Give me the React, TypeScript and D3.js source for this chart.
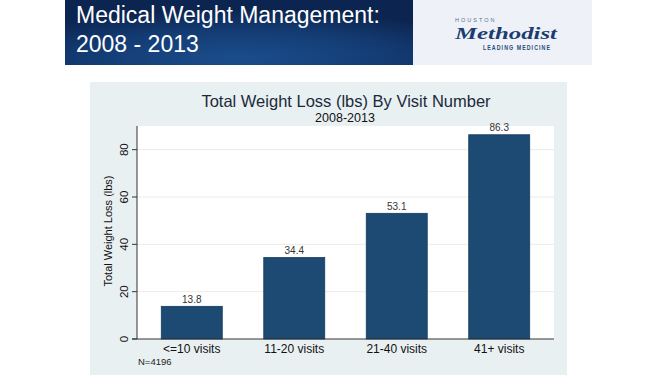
import React from "react";
import * as d3 from "d3";

const categories = ["<=10 visits", "11-20 visits", "21-40 visits", "41+ visits"];
const values = [13.8, 34.4, 53.1, 86.3];
const yTicks = [0, 20, 40, 60, 80];
const headerLines = ["Medical Weight Management:", "2008 - 2013"];
const chartTitle = "Total Weight Loss (lbs) By Visit Number";
const chartSubtitle = "2008-2013";
const yTitle = "Total Weight Loss (lbs)";
const note = "N=4196";

const W = 658;
const H = 376;
const plot = { left: 137, right: 554, top: 126, bottom: 339 };

export default function App() {
  const x = d3
    .scaleBand<string>()
    .domain(categories)
    .range([plot.left, plot.right])
    .paddingInner(0.405)
    .paddingOuter(0.237);
  const y = d3.scaleLinear().domain([0, 90]).range([plot.bottom, plot.top]);
  const font = "'Liberation Sans', Arial, sans-serif";

  return (
    <svg
      width={W}
      height={H}
      style={{ position: "absolute", left: 0, top: 0, display: "block" }}
      fontFamily={font}
    >
      <defs>
        <radialGradient id="banner" cx="0.5" cy="0.9" r="0.75" fx="0.5" fy="0.9">
          <stop offset="0" stopColor="#1b4d8c" />
          <stop offset="0.6" stopColor="#133b72" />
          <stop offset="1" stopColor="#0c2550" />
        </radialGradient>
      </defs>
      <rect x={0} y={0} width={W} height={H} fill="#ffffff" />
      {/* header banner */}
      <rect x={65} y={0} width={348} height={65} fill="url(#banner)" />
      <rect x={413} y={0} width={179} height={65} fill="#eef2f8" />
      {headerLines.map((t, i) => (
        <text key={t} x={76} y={23 + i * 29} fontSize={23} fill="#ffffff">
          {t}
        </text>
      ))}
      {/* logo */}
      <text x={455} y={21.5} fontSize={5.5} letterSpacing={2} fill="#5a6f93">
        HOUSTON
      </text>
      <text
        x={455}
        y={38.5}
        fontSize={16.5}
        fontFamily="'Liberation Serif', 'DejaVu Serif', serif"
        fontStyle="italic"
        fontWeight="bold"
        fill="#1c3c70"
        textLength={102}
        lengthAdjust="spacingAndGlyphs"
      >
        Methodist
      </text>
      <text
        x={483}
        y={49.5}
        fontSize={6.5}
        fontWeight="bold"
        letterSpacing={1.3}
        fill="#2c4a7a"
        textLength={68}
        lengthAdjust="spacingAndGlyphs"
      >
        LEADING MEDICINE
      </text>

      {/* chart panel */}
      <rect x={90} y={82} width={477} height={293} fill="#e9f0f2" />
      <rect
        x={plot.left}
        y={plot.top}
        width={plot.right - plot.left}
        height={plot.bottom - plot.top}
        fill="#ffffff"
      />
      <text x={346} y={107} fontSize={16.5} textAnchor="middle" fill="#1a2a3a">
        {chartTitle}
      </text>
      <text x={345} y={121.5} fontSize={12.5} textAnchor="middle" fill="#111111">
        {chartSubtitle}
      </text>

      {/* gridlines */}
      {yTicks
        .filter((t) => t > 0)
        .map((t) => (
          <line
            key={"g" + t}
            x1={plot.left}
            x2={plot.right}
            y1={y(t)}
            y2={y(t)}
            stroke="#ecebe4"
            strokeWidth={1}
          />
        ))}

      {/* bars */}
      {categories.map((c, i) => (
        <g key={c}>
          <rect
            x={x(c)!}
            y={y(values[i])}
            width={x.bandwidth()}
            height={y(0) - y(values[i])}
            fill="#1c4a73"
            stroke="#143a5e"
            strokeWidth={0.8}
          />
          <text
            x={x(c)! + x.bandwidth() / 2}
            y={y(values[i]) - 3.5}
            fontSize={10}
            textAnchor="middle"
            fill="#333333"
          >
            {values[i].toFixed(1)}
          </text>
          <text
            x={x(c)! + x.bandwidth() / 2}
            y={353}
            fontSize={12}
            textAnchor="middle"
            fill="#111111"
          >
            {c}
          </text>
        </g>
      ))}

      {/* axes */}
      <line x1={plot.left} x2={plot.left} y1={plot.top} y2={plot.bottom} stroke="#333333" strokeWidth={1} />
      <line x1={plot.left - 5} x2={plot.right} y1={plot.bottom} y2={plot.bottom} stroke="#333333" strokeWidth={1} />
      {yTicks.map((t) => (
        <g key={"t" + t}>
          <line x1={plot.left - 5} x2={plot.left} y1={y(t)} y2={y(t)} stroke="#333333" strokeWidth={1} />
          <text
            transform={`translate(128,${y(t)}) rotate(-90)`}
            fontSize={11.5}
            textAnchor="middle"
            fill="#111111"
          >
            {t}
          </text>
        </g>
      ))}
      <text
        transform="translate(112,231) rotate(-90)"
        fontSize={11}
        textAnchor="middle"
        fill="#111111"
      >
        {yTitle}
      </text>
      <text x={138} y={364.5} fontSize={9.5} fill="#222222">
        {note}
      </text>
    </svg>
  );
}
